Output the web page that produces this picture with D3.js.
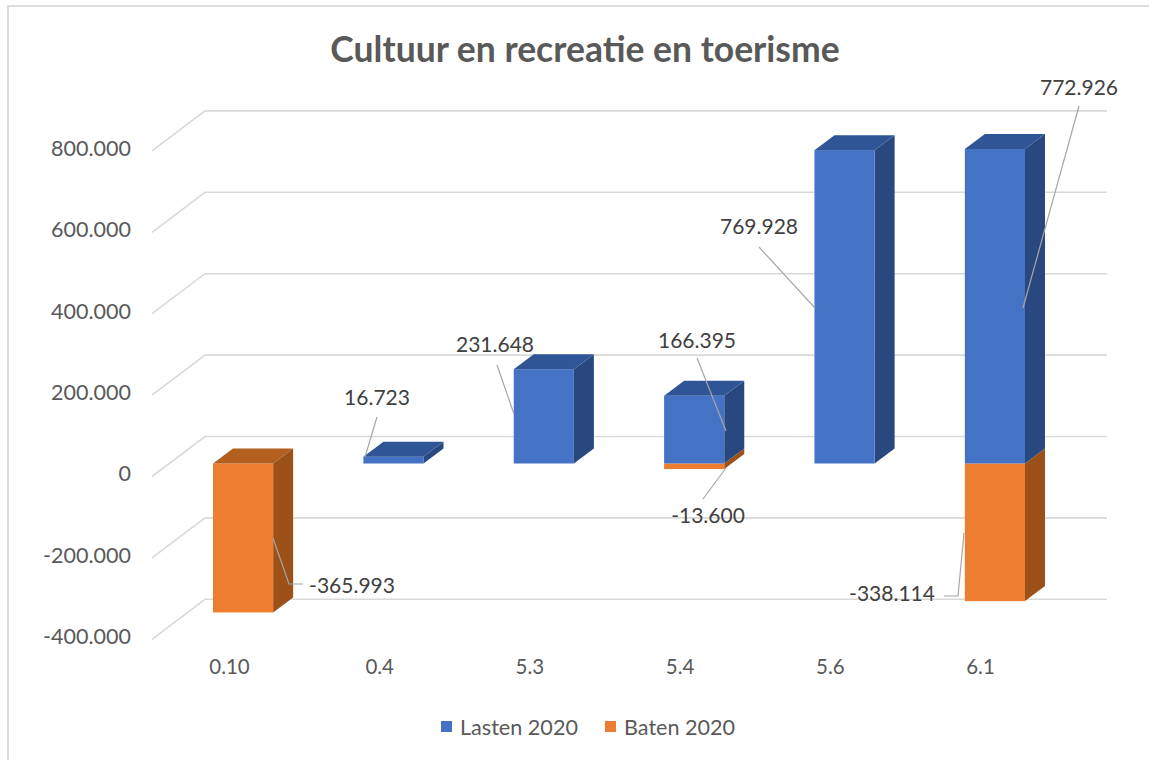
<!DOCTYPE html>
<html>
<head>
<meta charset="utf-8">
<script src="https://cdnjs.cloudflare.com/ajax/libs/d3/7.8.5/d3.min.js"></script>
<style>
html,body{margin:0;padding:0;background:#fff;}
svg{display:block;font-family:Lato,"Open Sans",sans-serif;}
</style>
</head>
<body>
<svg id="chart" width="1149" height="760"></svg>
<script>
const chartTitle = "Cultuur en recreatie en toerisme";
const categories = ["0.10","0.4","5.3","5.4","5.6","6.1"];
const seriesNames = ["Lasten 2020","Baten 2020"];
const lasten = [0,16723,231648,166395,769928,772926];
const baten = [-365993,0,0,-13600,0,-338114];
const yTicks = [-400000,-200000,0,200000,400000,600000,800000];

// label placement, separate from the data
const lastenLabels = [null,
  {lx:377,ly:398,path:[[377,417],[365,457]]},
  {lx:495,ly:345,path:[[497,365],[514,414]]},
  {lx:697,ly:341,path:[[697,358],[726,431]]},
  {lx:759,ly:227,path:[[759,247],[815,308]]},
  {lx:1079,ly:88,path:[[1079,106],[1023,308]]}];
const batenLabels = [
  {lx:352,ly:586,path:[[273,538],[289,584],[303,584]]},
  null,null,
  {lx:708,ly:516,path:[[703,499],[726,468]]},
  null,
  {lx:892,ly:594,path:[[944,596],[958,596],[964,533]]}];

const W=1149,H=760;
const svg=d3.select("#chart");
const nl=d3.formatLocale({decimal:",",thousands:".",grouping:[3],currency:["",""],minus:"-"});
const fmt=nl.format(",d");

const y=d3.scaleLinear().domain([0,800000]).range([463.5,137.9]);
const barX=d3.scaleBand().domain(categories).range([213,1025]).paddingInner(0.6).paddingOuter(0);
const depth={dx:20,dy:15};
const wall={dx:53,dy:40,backShift:-27,right:1107};
const colors={
  lasten:{front:"#4472C4",side:"#2A4880",top:"#2F5597"},
  baten:{front:"#ED7D31",side:"#9C5119",top:"#B25F1F"}
};

// frame: only the top and left edges are visible in the picture
svg.append("path").attr("d",d3.line()([[8,H],[8,6],[W,6]]))
  .attr("fill","none").attr("stroke","#dcdcdc").attr("stroke-width",2);

// title
svg.append("text").attr("x",585).attr("y",62).attr("text-anchor","middle")
  .attr("font-size",35.5).attr("font-weight",700).attr("fill","#595959").text(chartTitle);

// gridlines (back wall + side wall)
const grid=svg.append("g");
yTicks.forEach(t=>{
  const yb=y(t)+wall.backShift, xb=152+wall.dx;
  grid.append("path")
    .attr("d",d3.line()([[152,yb+wall.dy],[xb,yb],[wall.right,yb]]))
    .attr("fill","none").attr("stroke","#d9d9d9").attr("stroke-width",1.6);
});

// y axis
const yAxis=d3.axisLeft(y).tickValues(yTicks).tickFormat(fmt).tickSize(0).tickPadding(0);
const ya=svg.append("g").attr("transform","translate(131,10.5)").call(yAxis);
ya.select(".domain").remove();
ya.selectAll("text").attr("font-size",21.5).attr("fill","#595959").attr("font-family","Lato,'Open Sans',sans-serif");

// x axis
const xAxis=d3.axisBottom(d3.scalePoint().domain(categories).range([229,980])).tickSize(0).tickPadding(0);
const xa=svg.append("g").attr("transform","translate(0,659)").call(xAxis);
xa.select(".domain").remove();
xa.selectAll("text").attr("font-size",20.5).attr("fill","#595959").attr("font-family","Lato,'Open Sans',sans-serif");

// bars
function poly(g,pts,fill){g.append("polygon").attr("points",pts.map(p=>p.join(",")).join(" ")).attr("fill",fill);}
const bars=svg.append("g");
categories.forEach((c,i)=>{
  const x0=barX(c), x1=x0+barX.bandwidth();
  const g=bars.append("g");
  [[baten[i],colors.baten],[lasten[i],colors.lasten]].forEach(([v,col])=>{
    if(!v) return;
    const y0=y(0), yv=y(v);
    const ya=Math.min(y0,yv), yb=Math.max(y0,yv);
    poly(g,[[x1,ya],[x1+depth.dx,ya-depth.dy],[x1+depth.dx,yb-depth.dy],[x1,yb]],col.side);
    g.append("rect").attr("x",x0).attr("y",ya).attr("width",x1-x0).attr("height",yb-ya).attr("fill",col.front);
  });
  const topVal=lasten[i]>0?lasten[i]:0;
  const topCol=lasten[i]>0?colors.lasten.top:colors.baten.top;
  const yt=y(topVal);
  poly(g,[[x0,yt],[x0+depth.dx,yt-depth.dy],[x1+depth.dx,yt-depth.dy],[x1,yt]],topCol);
});

// data labels and leader lines
const lab=svg.append("g");
function drawLabel(v,l){
  if(!l) return;
  lab.append("path").attr("d",d3.line()(l.path)).attr("fill","none").attr("stroke","#a6a6a6").attr("stroke-width",1.2);
  lab.append("text").attr("x",l.lx).attr("y",l.ly).attr("dy","0.35em").attr("text-anchor","middle")
    .attr("font-size",21).attr("fill","#404040").text(fmt(v));
}
lasten.forEach((v,i)=>drawLabel(v,lastenLabels[i]));
baten.forEach((v,i)=>drawLabel(v,batenLabels[i]));

// legend
const legendX=[441,605];
const legendColors=[colors.lasten.front,colors.baten.front];
seriesNames.forEach((n,i)=>{
  svg.append("rect").attr("x",legendX[i]).attr("y",721).attr("width",11).attr("height",11).attr("fill",legendColors[i]);
  svg.append("text").attr("x",legendX[i]+19).attr("y",727).attr("dy","0.35em")
    .attr("font-size",21.6).attr("fill","#595959").text(n);
});
</script>
</body>
</html>
